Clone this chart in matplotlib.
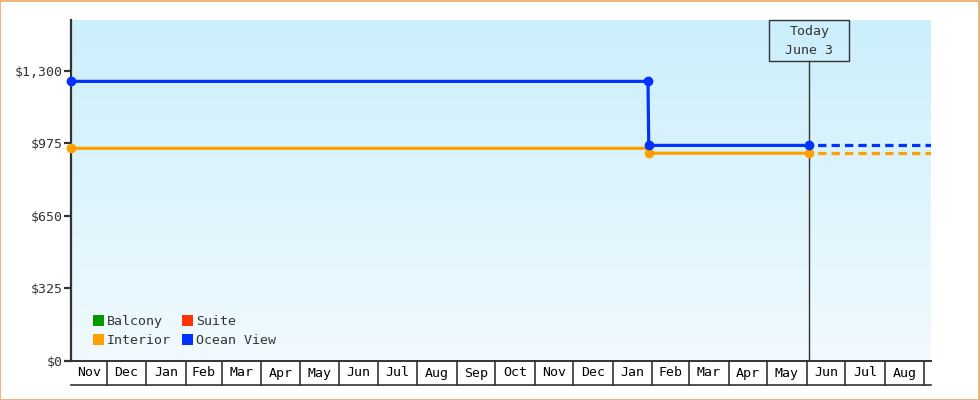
import datetime as dt

import matplotlib.pyplot as plt
import matplotlib.dates as mdates
import numpy as np
import pandas as pd
from matplotlib.patches import Patch, Rectangle

plt.rcParams["font.family"] = ["DejaVu Sans Mono"]

# price history per cabin type
start = dt.datetime(2022, 11, 3)
end = dt.datetime(2024, 9, 6)
today = dt.datetime(2024, 6, 3)

ocean_dates = [start, dt.datetime(2024, 1, 28, 18), dt.datetime(2024, 1, 29, 8), today]
ocean_prices = [1252, 1252, 965, 965]
ocean_markers = [0, 1, 2, 3]

interior_dates = [start, dt.datetime(2024, 1, 28), dt.datetime(2024, 1, 29, 8), today]
interior_prices = [952, 952, 930, 930]
interior_markers = [0, 2, 3]

legend_names = ["Balcony", "Interior", "Suite", "Ocean View"]
legend_colors = ["#009900", "#ffa000", "#ff3300", "#0033ff"]

y_ticks = [0, 325, 650, 975, 1300]
y_max = 1527

text_col = "#333333"
blue = "#0033ff"
orange = "#ffa000"

fig = plt.figure(figsize=(9.8, 4.0), dpi=100)
ax = fig.add_axes([71 / 980, 39.3 / 400, 859.6 / 980, 340.7 / 400])

# gradient background
grad = np.linspace(0, 1, 256).reshape(-1, 1)
top_c = np.array([203, 239, 252]) / 255
bot_c = np.array([241, 250, 255]) / 255
img = top_c[None, None, :] * (1 - grad[:, :, None]) + bot_c[None, None, :] * grad[:, :, None]
ax.imshow(img, extent=[0, 1, 0, 1], transform=ax.transAxes, aspect="auto", zorder=0)

ax.set_xlim(start, end)
ax.set_ylim(0, y_max)

# price lines
ax.plot(interior_dates, interior_prices, color=orange, lw=2.3, zorder=3, clip_on=False)
ax.plot(interior_dates, interior_prices, ls="none", marker="o", ms=6, color=orange,
        markevery=interior_markers, zorder=4, clip_on=False)
ax.plot([today, end], [interior_prices[-1]] * 2, color=orange, lw=2.3, ls=(1.5, (2.6, 1.6)), zorder=3)

ax.plot(ocean_dates, ocean_prices, color=blue, lw=2.3, zorder=5, clip_on=False)
ax.plot(ocean_dates, ocean_prices, ls="none", marker="o", ms=6, color=blue,
        markevery=ocean_markers, zorder=6, clip_on=False)
ax.plot([today, end], [ocean_prices[-1]] * 2, color=blue, lw=2.3, ls=(1.5, (2.6, 1.6)), zorder=5)

# spines and ticks
for side in ["top", "right"]:
    ax.spines[side].set_visible(False)
ax.spines["left"].set_color(text_col)
ax.spines["left"].set_linewidth(1.6)
ax.spines["bottom"].set_color(text_col)
ax.spines["bottom"].set_linewidth(1.4)
ax.set_yticks(y_ticks)
ax.set_yticklabels([f"${v:,}" for v in y_ticks])
ax.tick_params(axis="y", length=5, width=1.6, color=text_col, labelcolor=text_col,
               labelsize=9.5, pad=1)
ax.set_xticks([])

# month cells under the axis
xt = ax.get_xaxis_transform()
cell_bottom = -(385.3 - 360.7) / 340.7
ax.plot([start, end], [cell_bottom, cell_bottom], transform=xt, color=text_col, lw=1.2, clip_on=False)
month_starts = list(pd.date_range(start, end, freq="MS").to_pydatetime())
edges = [start] + month_starts + [end]
for m in month_starts:
    ax.plot([m, m], [0, cell_bottom], transform=xt, color=text_col, lw=1.2, clip_on=False)
for a, b in zip(edges[:-1], edges[1:]):
    if (b - a).days < 15:
        continue
    mid = a + (b - a) / 2
    ax.text(mid, cell_bottom / 2, a.strftime("%b"), transform=xt, ha="center",
            va="center", fontsize=9.5, color="black")

# today marker
box_h = 40.7 / 340.7
ax.plot([today, today], [0, 1 - box_h], transform=xt, color=text_col, lw=1, zorder=2)
x0, x1 = mdates.date2num(start), mdates.date2num(end)
tx = (mdates.date2num(today) - x0) / (x1 - x0)
box_w = 80 / 859.6
ax.add_patch(Rectangle((tx - box_w / 2, 1 - box_h), box_w, box_h, transform=ax.transAxes,
                       fill=False, edgecolor=text_col, lw=1, clip_on=False, zorder=7))
ax.text(tx, 1 - 12 / 340.7, "Today", transform=ax.transAxes, ha="center", va="center",
        fontsize=9.5, color=text_col)
ax.text(tx, 1 - 30 / 340.7, "June 3", transform=ax.transAxes, ha="center", va="center",
        fontsize=9.5, color=text_col)

# legend
handles = [Patch(facecolor=c, edgecolor="none") for c in legend_colors]
ax.legend(handles, legend_names, ncol=2, loc="lower left", bbox_to_anchor=(0.012, 0.005),
          frameon=False, fontsize=9.5, handlelength=0.85, handleheight=0.85,
          handletextpad=0.2, columnspacing=0.85, labelspacing=0.45, labelcolor=text_col)

# outer frame
fig.patches.append(Rectangle((0.0005, 0.001), 0.998, 0.997, transform=fig.transFigure,
                             fill=False, edgecolor="#e8a860", lw=1.2))

fig.savefig("out.png", dpi=100)
